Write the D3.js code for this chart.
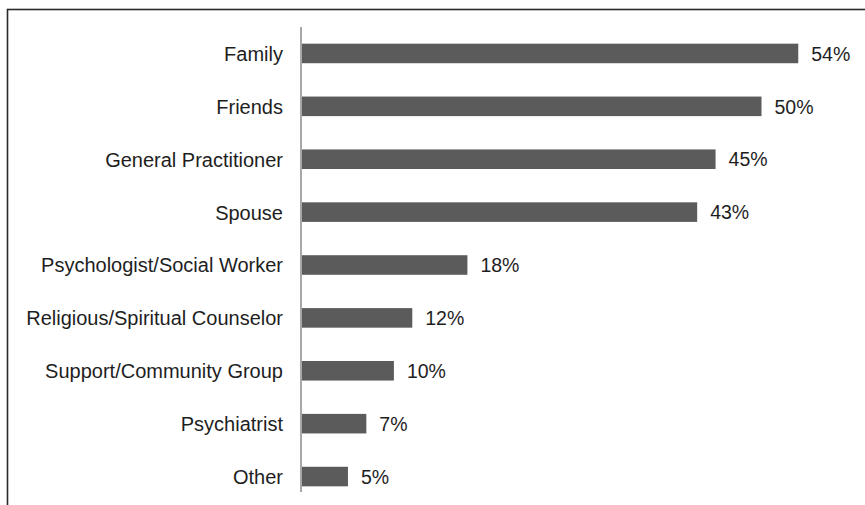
<!DOCTYPE html>
<html>
<head>
<meta charset="utf-8">
<script src="https://cdn.jsdelivr.net/npm/d3@7"></script>
<style>
  body { margin: 0; background: #fff; }
  text { font-family: "Liberation Sans", Arial, sans-serif; fill: #1e1e1e; }
</style>
</head>
<body>
<svg id="chart" width="865" height="505"></svg>
<script>
'use strict'

const categories = ['Family', 'Friends', 'General Practitioner', 'Spouse',
	'Psychologist/Social Worker', 'Religious/Spiritual Counselor',
	'Support/Community Group', 'Psychiatrist', 'Other']
const values = [54, 50, 45, 43, 18, 12, 10, 7, 5]

const svg = d3.select('#chart')

// outer frame, only top and left edges fall inside the picture
svg.append('rect')
	.attr('x', 7.5)
	.attr('y', 9.5)
	.attr('width', 900)
	.attr('height', 600)
	.attr('fill', 'none')
	.attr('stroke', '#2a2a2a')
	.attr('stroke-width', 1.6)

const x = d3.scaleLinear().domain([0, 60]).range([302, 853.4])
const y = d3.scaleBand().domain(categories).range([27, 503])
	.paddingInner(0.63).paddingOuter(0.315)

svg.selectAll('rect.bar')
	.data(values)
	.enter().append('rect')
	.attr('class', 'bar')
	.attr('x', x(0))
	.attr('y', (d, i) => y(categories[i]))
	.attr('width', d => x(d) - x(0))
	.attr('height', y.bandwidth())
	.attr('fill', '#5b5b5b')

svg.append('line')
	.attr('x1', 301).attr('x2', 301)
	.attr('y1', 27).attr('y2', 492)
	.attr('stroke', '#a8a8a8')
	.attr('stroke-width', 2)

svg.selectAll('text.cat')
	.data(categories)
	.enter().append('text')
	.attr('class', 'cat')
	.attr('x', 283)
	.attr('y', d => y(d) + y.bandwidth() / 2)
	.attr('dy', '0.37em')
	.attr('text-anchor', 'end')
	.style('font-size', '20px')
	.text(d => d)

svg.selectAll('text.val')
	.data(values)
	.enter().append('text')
	.attr('class', 'val')
	.attr('x', d => x(d) + 13)
	.attr('y', (d, i) => y(categories[i]) + y.bandwidth() / 2)
	.attr('dy', '0.37em')
	.style('font-size', '19.5px')
	.text(d => d + '%')
</script>
</body>
</html>
